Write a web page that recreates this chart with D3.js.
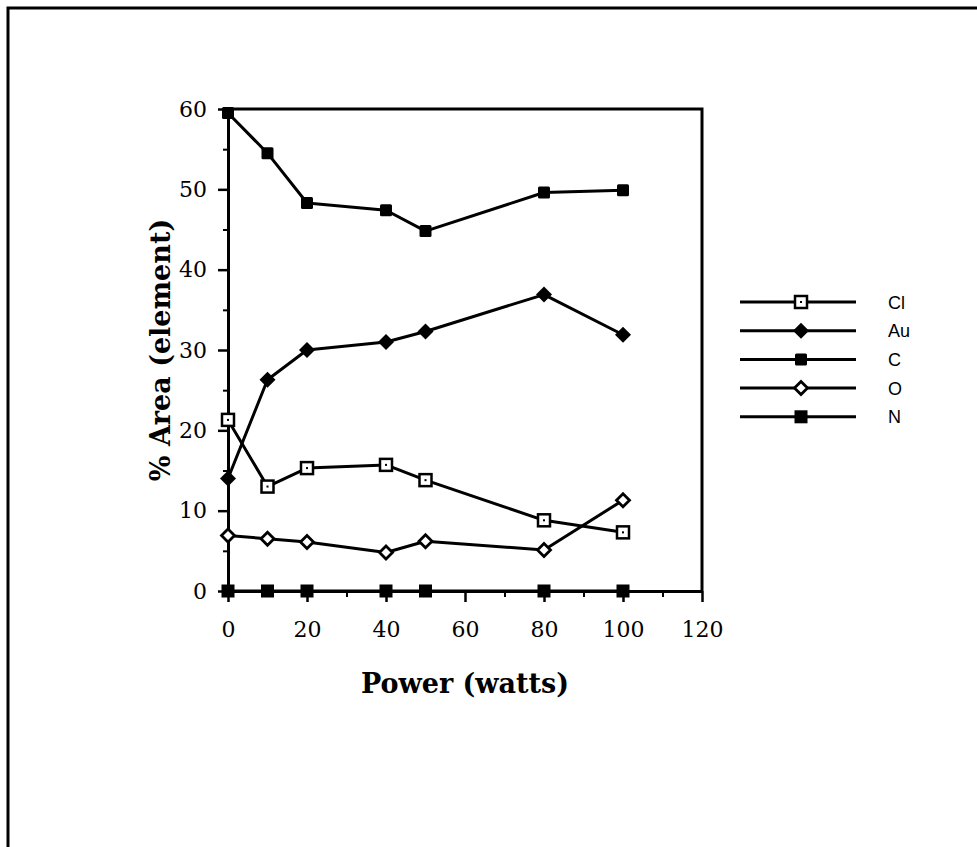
<!DOCTYPE html>
<html>
<head>
<meta charset="utf-8">
<script src="https://cdn.jsdelivr.net/npm/d3@7"></script>
<style>
  body { margin: 0; background: #fff; }
  .tick text { font-family: "DejaVu Serif", serif; font-size: 22px; fill: #000; }
  .title { font-family: "DejaVu Serif", serif; font-weight: bold; font-size: 27px; }
  .legend text { font-family: "Liberation Sans", Arial, sans-serif; font-size: 18px; }
</style>
</head>
<body>
<script>
// power settings (x) and % area of each element
const powers = [0, 10, 20, 40, 50, 80, 100];
const clValues = [21.3, 13.0, 15.3, 15.7, 13.8, 8.8, 7.3];
const auValues = [14.0, 26.3, 30.0, 31.0, 32.3, 36.9, 31.9];
const cValues = [59.5, 54.5, 48.3, 47.4, 44.8, 49.6, 49.9];
const oValues = [6.9, 6.5, 6.1, 4.8, 6.2, 5.1, 11.3];
const nValues = [0, 0, 0, 0, 0, 0, 0];
const seriesNames = ["Cl", "Au", "C", "O", "N"];
const xTicks = [0, 20, 40, 60, 80, 100, 120];
const yTicks = [0, 10, 20, 30, 40, 50, 60];

const markers = { Cl: "openSquare", Au: "diamond", C: "square", O: "openDiamond", N: "bigSquare" };
const allValues = { Cl: clValues, Au: auValues, C: cValues, O: oValues, N: nValues };

const W = 977, H = 847;
const plot = { left: 228, right: 702, top: 109, bottom: 591 };

const svg = d3.select("body").append("svg")
    .attr("width", W)
    .attr("height", H);

// outer frame
svg.append("rect")
    .attr("x", 8).attr("y", 8)
    .attr("width", 1000).attr("height", 900)
    .attr("fill", "none").attr("stroke", "#000").attr("stroke-width", 3);

var x = d3.scaleLinear().domain([0, 120]).range([plot.left, plot.right]);
var y = d3.scaleLinear().domain([0, 60]).range([plot.bottom, plot.top]);

// minor ticks first
svg.append("g")
    .attr("transform", "translate(" + plot.left + ",0)")
    .call(d3.axisLeft(y).tickValues(d3.range(5, 60, 10)).tickSize(5).tickFormat(""))
    .call(g => g.select(".domain").remove())
    .selectAll("line").attr("stroke-width", 2);
svg.append("g")
    .attr("transform", "translate(0," + plot.bottom + ")")
    .call(d3.axisBottom(x).tickValues(d3.range(10, 120, 20)).tickSize(6).tickFormat(""))
    .call(g => g.select(".domain").remove())
    .selectAll("line").attr("stroke-width", 2);

// major axes
var yAxis = svg.append("g")
    .attr("transform", "translate(" + plot.left + ",0)")
    .call(d3.axisLeft(y).tickValues(yTicks).tickSize(10).tickPadding(11).tickSizeOuter(0));
var xAxis = svg.append("g")
    .attr("transform", "translate(0," + plot.bottom + ")")
    .call(d3.axisBottom(x).tickValues(xTicks).tickSize(11).tickPadding(19).tickSizeOuter(0));
[yAxis, xAxis].forEach(g => {
  g.select(".domain").attr("stroke-width", 3);
  g.selectAll(".tick line").attr("stroke-width", 2.5);
});

// top and right frame of the plot
svg.append("path")
    .attr("d", "M" + x(0) + "," + y(60) + "H" + x(120) + "V" + y(0))
    .attr("fill", "none").attr("stroke", "#000").attr("stroke-width", 3);

function drawMarker(g, type, cx, cy) {
  if (type === "openSquare") {
    g.append("rect").attr("x", cx - 6).attr("y", cy - 6).attr("width", 12).attr("height", 12)
      .attr("fill", "#fff").attr("stroke", "#000").attr("stroke-width", 2.5);
    g.append("rect").attr("x", cx - 1).attr("y", cy - 1).attr("width", 2).attr("height", 2).attr("fill", "#000");
  } else if (type === "square") {
    g.append("rect").attr("x", cx - 6).attr("y", cy - 6).attr("width", 12).attr("height", 12)
      .attr("rx", 1.5).attr("fill", "#000");
  } else if (type === "bigSquare") {
    g.append("rect").attr("x", cx - 6.5).attr("y", cy - 6.5).attr("width", 13).attr("height", 13).attr("fill", "#000");
  } else if (type === "diamond") {
    g.append("path").attr("d", "M" + cx + "," + (cy - 8) + "L" + (cx + 8) + "," + cy + "L" + cx + "," + (cy + 8) + "L" + (cx - 8) + "," + cy + "Z")
      .attr("fill", "#000");
  } else if (type === "openDiamond") {
    g.append("path").attr("d", "M" + cx + "," + (cy - 6.5) + "L" + (cx + 6.5) + "," + cy + "L" + cx + "," + (cy + 6.5) + "L" + (cx - 6.5) + "," + cy + "Z")
      .attr("fill", "#fff").attr("stroke", "#000").attr("stroke-width", 2.8);
  }
}

var line = d3.line().x(d => x(d[0])).y(d => y(d[1]));

seriesNames.forEach(function (name) {
  var pts = powers.map((p, i) => [p, allValues[name][i]]);
  var g = svg.append("g").attr("class", "series");
  g.append("path").datum(pts)
      .attr("d", line)
      .attr("fill", "none").attr("stroke", "#000").attr("stroke-width", 3).attr("stroke-linejoin", "round");
  pts.forEach(d => drawMarker(g, markers[name], x(d[0]), y(d[1])));
});

// axis titles
svg.append("text")
    .attr("class", "title")
    .attr("x", (plot.left + plot.right) / 2)
    .attr("y", 693)
    .attr("text-anchor", "middle")
    .text("Power (watts)");

svg.append("text")
    .attr("class", "title")
    .attr("transform", "translate(170," + ((plot.top + plot.bottom) / 2) + ") rotate(-90)")
    .attr("text-anchor", "middle")
    .text("% Area (element)");

// legend
var legend = svg.append("g").attr("class", "legend");
seriesNames.forEach(function (name, i) {
  var ly = 302 + i * 28.7;
  legend.append("line")
      .attr("x1", 740).attr("x2", 856).attr("y1", ly).attr("y2", ly)
      .attr("stroke", "#000").attr("stroke-width", 3);
  drawMarker(legend, markers[name], 801, ly);
  legend.append("text")
      .attr("x", 888).attr("y", ly + 6.5)
      .text(name);
});
</script>
</body>
</html>
